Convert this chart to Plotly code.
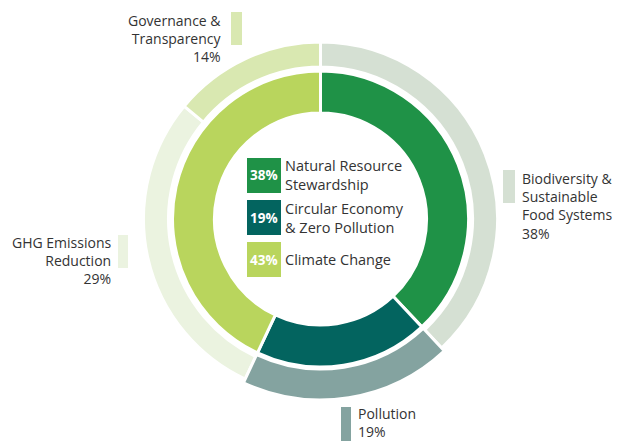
import plotly.graph_objects as go

W, H = 619, 442

inner_labels = ["Natural Resource Stewardship", "Circular Economy & Zero Pollution", "Climate Change"]
inner_values = [38, 19, 43]
inner_colors = ["#1f9247", "#03645f", "#b9d55d"]
inner_legend_text = ["Natural Resource<br>Stewardship", "Circular Economy<br>& Zero Pollution", "Climate Change"]

outer_labels = ["Biodiversity & Sustainable Food Systems", "Pollution", "GHG Emissions Reduction", "Governance & Transparency"]
outer_values = [38, 19, 29, 14]
outer_colors = ["#d5e0d3", "#84a3a0", "#ebf3e0", "#d9e8b1"]
outer_text = ["Biodiversity &<br>Sustainable<br>Food Systems<br>38%", "Pollution<br>19%",
              "GHG Emissions<br>Reduction<br>29%", "Governance &<br>Transparency<br>14%"]
highlight = "Pollution"  # outer segment drawn wider

cx, cy = 320.5, 219  # pixel centre (from top)


def dom(r):
    return dict(x=[(cx - r) / W, (cx + r) / W], y=[(H - cy - r) / H, (H - cy + r) / H])


TRANSP = "rgba(0,0,0,0)"
base_cols = [TRANSP if l == highlight else c for l, c in zip(outer_labels, outer_colors)]
base_w = [0 if l == highlight else 3 for l in outer_labels]
hi_cols = [c if l == highlight else TRANSP for l, c in zip(outer_labels, outer_colors)]
hi_w = [3 if l == highlight else 0 for l in outer_labels]

fig = go.Figure()
fig.add_trace(go.Pie(values=outer_values, labels=outer_labels,
                     marker=dict(colors=base_cols, line=dict(color="white", width=base_w)),
                     hole=152 / 177, sort=False, direction="clockwise", rotation=0, textinfo="none",
                     hoverinfo="label+percent", domain=dom(177), showlegend=False))
fig.add_trace(go.Pie(values=outer_values, labels=outer_labels,
                     marker=dict(colors=hi_cols, line=dict(color="white", width=hi_w)),
                     hole=150 / 181, sort=False, direction="clockwise", rotation=0, textinfo="none",
                     hoverinfo="skip", domain=dom(181), showlegend=False))
fig.add_trace(go.Pie(values=inner_values, labels=inner_labels, marker=dict(colors=inner_colors, line=dict(color="white", width=3)),
                     hole=106 / 148, sort=False, direction="clockwise", rotation=0, textinfo="none",
                     hoverinfo="label+percent", domain=dom(148), showlegend=False))

FONT = "'Open Sans', 'Noto Sans', sans-serif"
TXT = "#333333"


def px(x):
    return x / W


def py(y):
    return 1 - y / H


shapes = []
annotations = []

# Outer labels with colour bars
outer_layout = [
    # (bar x0, x1, y0, y1, text x, text y(top), anchor)
    (503, 515, 170, 203, 520, 167, "left"),
    (341, 351, 407, 441, 356, 402, "left"),
    (118, 128, 235, 268, 113, 231, "right"),
    (231, 242, 12, 45, 224, 9, "right"),
]
for i, (bx0, bx1, by0, by1, tx, ty, anc) in enumerate(outer_layout):
    shapes.append(dict(type="rect", xref="paper", yref="paper", x0=px(bx0), x1=px(bx1), y0=py(by1), y1=py(by0),
                       fillcolor=outer_colors[i], line=dict(width=0)))
    annotations.append(dict(xref="paper", yref="paper", x=px(tx), y=py(ty), xanchor=anc, yanchor="top",
                            text=outer_text[i], showarrow=False, align=anc,
                            font=dict(family=FONT, size=14, color=TXT)))

# Centre legend
legend_rows = [(158, 193), (200, 235), (242, 277)]
for i, (y0, y1) in enumerate(legend_rows):
    shapes.append(dict(type="rect", xref="paper", yref="paper", x0=px(247), x1=px(281), y0=py(y1), y1=py(y0),
                       fillcolor=inner_colors[i], line=dict(width=0)))
    annotations.append(dict(xref="paper", yref="paper", x=px(264), y=py((y0 + y1) / 2), xanchor="center", yanchor="middle",
                            text=f"<b>{inner_values[i]}%</b>", showarrow=False,
                            font=dict(family=FONT, size=13.5, color="white")))
    annotations.append(dict(xref="paper", yref="paper", x=px(283), y=py((y0 + y1) / 2), xanchor="left", yanchor="middle",
                            text=inner_legend_text[i], showarrow=False, align="left",
                            font=dict(family=FONT, size=14.5, color=TXT)))

fig.update_layout(width=W, height=H, margin=dict(l=0, r=0, t=0, b=0), paper_bgcolor="white", plot_bgcolor="white",
                  shapes=shapes, annotations=annotations, showlegend=False)

fig.write_html("out.html", config={"displayModeBar": False},
               post_script="document.body.style.margin='0px';document.body.style.padding='0px';")
